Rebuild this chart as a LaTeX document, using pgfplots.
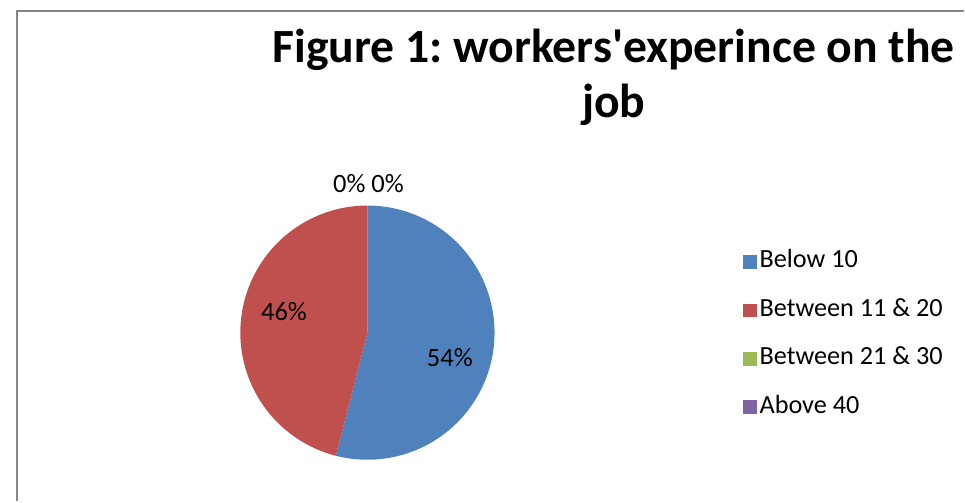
\documentclass[border=0pt]{standalone}
\usepackage{pgfplots}
\usepackage{pgfplotstable}
\pgfplotsset{compat=1.18}
\usepackage{fontspec}
\setmainfont{Carlito}
\newfontfamily\titlefont{Carlito}
\definecolor{pieblue}{HTML}{4F81BD}
\definecolor{piered}{HTML}{C0504D}
\definecolor{piegreen}{HTML}{9BBB59}
\definecolor{piepurple}{HTML}{8064A2}
\definecolor{framegray}{HTML}{868686}

\pgfplotstableread{
label value
Below10 54
Between11-20 46
Between21-30 0
Above40 0
}\datatable

\begin{document}
\frenchspacing
\pgfplotstablegetelem{0}{value}\of\datatable \let\va\pgfplotsretval
\pgfmathsetmacro\angA{90-3.6*\va}
\pgfmathsetmacro\angB{90-360}
\begin{tikzpicture}
\begin{axis}[
  scale only axis, width=723.75pt, height=378.75pt,
  xmin=0, xmax=965, ymin=0, ymax=505,
  axis lines=none, clip=false,
  legend cell align=left,
  legend style={draw=none, fill=none, inner sep=0pt, at={(axis cs:742,168)}, anchor=west,
    font=\fontsize{19.8}{23}\selectfont, row sep=18.6pt,
    nodes={inner sep=0pt, inner xsep=2pt, text height=13.5pt, text depth=4.5pt}},
  legend image code/.code={\fill[#1] (0pt,-5.2pt) rectangle (10.5pt,5.2pt);},
]
\path (axis cs:0,0) rectangle (axis cs:965,505);
\draw[framegray, line width=1.2pt] (axis cs:11,0) -- (axis cs:11,494) -- (axis cs:965,494);

\addplot[fill=pieblue, draw=none, domain=\angA:90, samples=120, variable=\t]
  ({364+128*cos(t)},{170+128*sin(t)}) -- (axis cs:364,170) -- cycle;
\addlegendentry{Below 10}
\addplot[fill=piered, draw=none, domain=\angB:\angA, samples=120, variable=\t]
  ({364+128*cos(t)},{170+128*sin(t)}) -- (axis cs:364,170) -- cycle;
\addlegendentry{Between 11 \& 20}
\addlegendimage{draw=none, fill=piegreen}
\addlegendentry{Between 21 \& 30}
\addlegendimage{draw=none, fill=piepurple}
\addlegendentry{Above 40}

\node[font=\fontsize{20}{24}\selectfont] at (axis cs:365,320) {0\% 0\%};
\node[font=\fontsize{20}{24}\selectfont] at (axis cs:280,191) {46\%};
\node[font=\fontsize{20}{24}\selectfont] at (axis cs:447,145) {54\%};

\node[font=\titlefont\fontsize{36}{41.5}\selectfont\bfseries, align=center] at (axis cs:612,427)
  {Figure 1: workers'experince on the\\job};
\end{axis}
\end{tikzpicture}
\end{document}
